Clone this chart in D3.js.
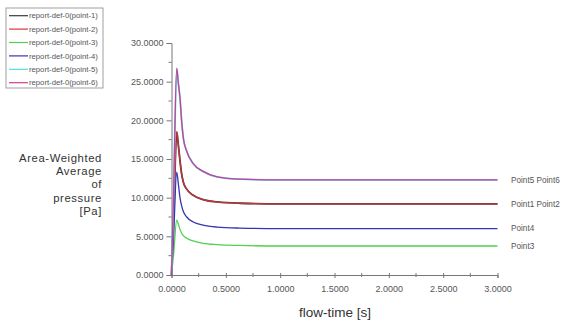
<!DOCTYPE html>
<html>
<head>
<meta charset="utf-8">
<script src="https://cdn.jsdelivr.net/npm/d3@7"></script>
<style>
  html, body { margin: 0; padding: 0; background: #fff; }
  svg { display: block; font-family: "Liberation Sans", Arial, sans-serif; }
</style>
</head>
<body>
<svg id="chart" width="573" height="326"></svg>
<script>
// flow-time samples (s), shared by every report series
const flowTime = [0, 0.02, 0.048, 0.063, 0.078, 0.094, 0.109, 0.14, 0.2, 0.29, 0.42, 0.63, 1.0, 1.5, 2.0, 2.5, 3.0];

const point1 = [0, 7.5, 18.5, 16.8, 14.8, 13.0, 12.0, 11.1, 10.3, 9.75, 9.45, 9.28, 9.2, 9.2, 9.2, 9.2, 9.2];
const point2 = [0, 7.5, 18.5, 16.8, 14.8, 13.0, 12.0, 11.1, 10.3, 9.75, 9.45, 9.28, 9.2, 9.2, 9.2, 9.2, 9.2];
const point3 = [0, 2.8, 7.1, 6.6, 5.9, 5.4, 5.1, 4.75, 4.4, 4.1, 3.93, 3.82, 3.75, 3.75, 3.75, 3.75, 3.75];
const point4 = [0, 5.3, 13.3, 11.8, 10.0, 8.9, 8.2, 7.5, 6.85, 6.45, 6.2, 6.07, 6.0, 6.0, 6.0, 6.0, 6.0];
const point5 = [0, 11, 26.7, 24.8, 22.9, 19.8, 17.7, 16.0, 14.4, 13.4, 12.7, 12.4, 12.3, 12.3, 12.3, 12.3, 12.3];
const point6 = [0, 11, 26.7, 24.8, 22.9, 19.8, 17.7, 16.0, 14.4, 13.4, 12.7, 12.4, 12.3, 12.3, 12.3, 12.3, 12.3];

const seriesNames = ["report-def-0(point-1)", "report-def-0(point-2)", "report-def-0(point-3)",
  "report-def-0(point-4)", "report-def-0(point-5)", "report-def-0(point-6)"];
const seriesValues = [point1, point2, point3, point4, point5, point6];
const seriesColors = ["#3a3a3a", "#e0303a", "#50d050", "#3535b5", "#50dde0", "#d03c9c"];

const xTicks = [0, 0.5, 1.0, 1.5, 2.0, 2.5, 3.0];
const yTicks = [0, 5, 10, 15, 20, 25, 30];

// end-of-line annotations
const endLabels = ["Point5 Point6", "Point1 Point2", "Point4", "Point3"];
const endLabelValues = [12.3, 9.2, 6.0, 3.75];

const yTitle = ["Area-Weighted", "Average", "of", "pressure", "[Pa]"];
const xTitle = "flow-time [s]";

const svg = d3.select("#chart");

const x = d3.scaleLinear().domain([0, 3]).range([171.5, 497.5]);
const y = d3.scaleLinear().domain([0, 30]).range([275, 43]);

const axisColor = "#777";
const textColor = "#555";

// y axis
const yAxis = svg.append("g")
  .attr("transform", `translate(${x(0)},0)`)
  .call(d3.axisLeft(y).tickValues(yTicks).tickSize(5).tickFormat(d3.format(".4f")));
yAxis.append("g").selectAll("line")
  .data(d3.range(2.5, 30, 5))
  .join("line")
  .attr("x1", -3).attr("x2", 0)
  .attr("y1", (d) => y(d)).attr("y2", (d) => y(d))
  .attr("stroke", axisColor);

// x axis
const xAxis = svg.append("g")
  .attr("transform", `translate(0,${y(0)})`)
  .call(d3.axisBottom(x).tickValues(xTicks).tickSize(3).tickPadding(8).tickFormat(d3.format(".4f")));
xAxis.selectAll(".tick line").attr("y1", -2);
xAxis.append("g").selectAll("line")
  .data(d3.range(0.25, 3, 0.5))
  .join("line")
  .attr("x1", (d) => x(d)).attr("x2", (d) => x(d))
  .attr("y1", -2).attr("y2", 2)
  .attr("stroke", axisColor);

svg.selectAll(".domain").attr("stroke", axisColor);
svg.selectAll(".tick line").attr("stroke", axisColor);
svg.selectAll(".tick text")
  .attr("fill", textColor)
  .attr("font-size", "9px");

// series
const line = d3.line()
  .x((d, i) => x(flowTime[i]))
  .y((d) => y(d))
  .curve(d3.curveMonotoneX);

const drawOrder = [0, 1, 2, 3, 4, 5];
svg.append("g")
  .selectAll("path")
  .data(drawOrder)
  .join("path")
  .attr("d", (i) => line(seriesValues[i]))
  .attr("fill", "none")
  .attr("stroke", (i) => seriesColors[i])
  .attr("stroke-width", (i) => (i === 0 || i === 4 ? 1.8 : 1.3))
  .attr("stroke-opacity", (i) => (i === 1 ? 0.85 : 1))
  .attr("stroke-linejoin", "round");

// end labels
svg.append("g")
  .selectAll("text")
  .data(endLabels)
  .join("text")
  .attr("x", 511)
  .attr("y", (d, i) => y(endLabelValues[i]) + 2.8)
  .attr("fill", textColor)
  .attr("font-size", "8.2px")
  .text((d) => d);

// legend
const legend = svg.append("g");
legend.append("rect")
  .attr("x", 6).attr("y", 8)
  .attr("width", 97).attr("height", 80)
  .attr("fill", "#fff")
  .attr("stroke", "#888")
  .attr("stroke-width", 0.8);
const rows = legend.selectAll("g.row")
  .data(seriesNames)
  .join("g")
  .attr("class", "row")
  .attr("transform", (d, i) => `translate(0,${15.7 + i * 13.4})`);
rows.append("line")
  .attr("x1", 9).attr("x2", 28)
  .attr("stroke", (d, i) => seriesColors[i])
  .attr("stroke-width", 1.2);
rows.append("text")
  .attr("x", 29)
  .attr("y", 2.7)
  .attr("fill", textColor)
  .attr("font-size", "7.7px")
  .text((d) => d);

// titles
svg.append("g")
  .selectAll("text")
  .data(yTitle)
  .join("text")
  .attr("x", 102)
  .attr("y", (d, i) => 162 + i * 13.2)
  .attr("text-anchor", "end")
  .attr("fill", "#333")
  .attr("font-size", "11.3px")
  .attr("letter-spacing", "0.6px")
  .text((d) => d);

svg.append("text")
  .attr("x", 335)
  .attr("y", 317)
  .attr("text-anchor", "middle")
  .attr("fill", "#333")
  .attr("font-size", "13.5px")
  .text(xTitle);
</script>
</body>
</html>
